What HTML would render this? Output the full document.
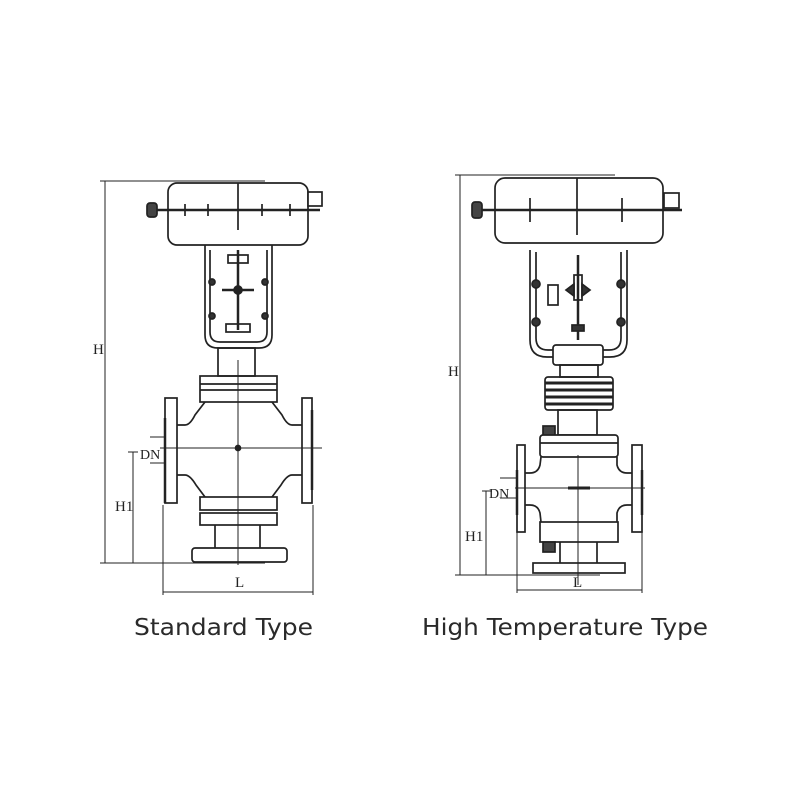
<!DOCTYPE html>
<html><head><meta charset="utf-8"><style>
html,body{margin:0;padding:0;background:#fff;width:800px;height:800px;overflow:hidden}
svg{display:block}
text{font-family:"Liberation Serif",serif;fill:#222}
</style></head><body>
<svg width="800" height="800" viewBox="0 0 800 800" xmlns="http://www.w3.org/2000/svg">
<g fill="none" stroke="#222" stroke-width="1.7">
<!-- ===== STANDARD ===== -->
<line x1="105" y1="181" x2="105" y2="563" stroke-width="1"/>
<line x1="100" y1="181" x2="265" y2="181" stroke-width="1"/>
<line x1="100" y1="563" x2="265" y2="563" stroke-width="1"/>
<rect x="168" y="183" width="140" height="62" rx="9" fill="#fff"/>
<line x1="150" y1="210" x2="320" y2="210" stroke-width="2.5"/>
<line x1="238" y1="183" x2="238" y2="230"/>
<line x1="185" y1="204" x2="185" y2="216"/><line x1="208" y1="204" x2="208" y2="216"/>
<line x1="262" y1="204" x2="262" y2="216"/><line x1="290" y1="204" x2="290" y2="216"/>
<rect x="147" y="203" width="10" height="14" rx="3" fill="#444"/>
<rect x="308" y="192" width="14" height="14" fill="#fff"/>
<path d="M205 245 V335 Q205 348 218 348 H259 Q272 348 272 335 V245"/>
<path d="M210 250 V332 Q210 342 220 342 H257 Q267 342 267 332 V250"/>
<line x1="238" y1="250" x2="238" y2="330" stroke-width="2.5"/>
<rect x="228" y="255" width="20" height="8"/>
<path d="M222 290 H254" stroke-width="2.5"/>
<circle cx="238" cy="290" r="4" fill="#222"/>
<rect x="226" y="324" width="24" height="8"/>
<circle cx="212" cy="282" r="3" fill="#333"/><circle cx="265" cy="282" r="3" fill="#333"/>
<circle cx="212" cy="316" r="3" fill="#333"/><circle cx="265" cy="316" r="3" fill="#333"/>
<rect x="218" y="348" width="37" height="28"/>
<rect x="200" y="376" width="77" height="26"/>
<line x1="200" y1="384" x2="277" y2="384"/><line x1="200" y1="390" x2="277" y2="390"/>
<rect x="165" y="398" width="12" height="105" fill="#fff"/>
<rect x="302" y="398" width="10" height="105" fill="#fff"/>
<path d="M177 425 H185 Q190 425 195 415 L205 402"/>
<path d="M302 425 H292 Q287 425 282 415 L272 402"/>
<path d="M177 475 H185 Q190 475 196 485 L205 497"/>
<path d="M302 475 H292 Q287 475 281 485 L272 497"/>
<line x1="312" y1="410" x2="312" y2="490" stroke-width="2.5"/>
<line x1="165" y1="418" x2="165" y2="503" stroke-width="2.5"/>
<rect x="200" y="497" width="77" height="13"/>
<rect x="200" y="513" width="77" height="12"/>
<line x1="215" y1="525" x2="215" y2="548"/><line x1="260" y1="525" x2="260" y2="548"/>
<rect x="192" y="548" width="95" height="14" rx="3"/>
<line x1="238" y1="360" x2="238" y2="565" stroke-width="1"/>
<line x1="160" y1="448" x2="322" y2="448" stroke-width="1"/>
<circle cx="238" cy="448" r="2.5" fill="#222"/>
<line x1="150" y1="437" x2="165" y2="437" stroke-width="1"/>
<line x1="150" y1="463" x2="165" y2="463" stroke-width="1"/>
<line x1="128" y1="452" x2="138" y2="452" stroke-width="1"/>
<line x1="133" y1="452" x2="133" y2="563" stroke-width="1"/>
<line x1="163" y1="505" x2="163" y2="595" stroke-width="1"/>
<line x1="313" y1="505" x2="313" y2="595" stroke-width="1"/>
<line x1="163" y1="592" x2="313" y2="592" stroke-width="1"/>

<!-- ===== HIGH TEMP ===== -->
<line x1="460" y1="175" x2="460" y2="575" stroke-width="1"/>
<line x1="455" y1="175" x2="615" y2="175" stroke-width="1"/>
<line x1="455" y1="575" x2="600" y2="575" stroke-width="1"/>
<rect x="495" y="178" width="168" height="65" rx="10" fill="#fff"/>
<line x1="475" y1="210" x2="682" y2="210" stroke-width="2.5"/>
<line x1="577" y1="178" x2="577" y2="235"/>
<line x1="530" y1="198" x2="530" y2="222"/><line x1="622" y1="198" x2="622" y2="222"/>
<rect x="472" y="202" width="10" height="16" rx="3" fill="#444"/>
<rect x="664" y="193" width="15" height="15" fill="#fff"/>
<path d="M530 250 V340 Q530 357 547 357 H610 Q627 357 627 340 V250"/>
<path d="M536 252 V338 Q536 350 548 350 H609 Q621 350 621 338 V252"/>
<line x1="578" y1="255" x2="578" y2="340" stroke-width="2.5"/>
<path d="M566 290 L574 284 V296 Z" fill="#333"/><path d="M590 290 L582 284 V296 Z" fill="#333"/>
<rect x="574" y="275" width="8" height="25"/>
<rect x="548" y="285" width="10" height="20" fill="#fff"/>
<rect x="572" y="325" width="12" height="6" fill="#333"/>
<circle cx="536" cy="284" r="4" fill="#333"/><circle cx="621" cy="284" r="4" fill="#333"/>
<circle cx="536" cy="322" r="4" fill="#333"/><circle cx="621" cy="322" r="4" fill="#333"/>
<rect x="553" y="345" width="50" height="20" rx="3" fill="#fff"/>
<rect x="560" y="365" width="38" height="12"/>
<rect x="545" y="377" width="68" height="33" rx="3"/>
<line x1="545" y1="383" x2="613" y2="383" stroke-width="3"/>
<line x1="545" y1="390" x2="613" y2="390" stroke-width="3"/>
<line x1="545" y1="397" x2="613" y2="397" stroke-width="3"/>
<line x1="545" y1="404" x2="613" y2="404" stroke-width="3"/>
<rect x="558" y="410" width="39" height="25"/>
<rect x="543" y="426" width="12" height="10" fill="#444"/>
<rect x="540" y="435" width="78" height="22" rx="3" fill="#fff"/>
<line x1="540" y1="443" x2="618" y2="443"/>
<rect x="517" y="445" width="8" height="87" fill="#fff"/>
<rect x="632" y="445" width="10" height="87" fill="#fff"/>
<path d="M525 473 H530 Q538 473 540 465 L541 457"/>
<path d="M632 473 H627 Q619 473 617 465 L617 457"/>
<path d="M525 505 H530 Q538 505 540 513 L541 522"/>
<path d="M632 505 H627 Q619 505 617 513 L617 522"/>
<line x1="642" y1="470" x2="642" y2="515" stroke-width="2.5"/>
<line x1="517" y1="470" x2="517" y2="515" stroke-width="2.5"/>
<rect x="540" y="522" width="78" height="20"/>
<rect x="543" y="542" width="12" height="10" fill="#444"/>
<line x1="560" y1="542" x2="560" y2="563"/><line x1="597" y1="542" x2="597" y2="563"/>
<rect x="533" y="563" width="92" height="10"/>
<line x1="578" y1="455" x2="578" y2="585" stroke-width="1"/>
<line x1="515" y1="488" x2="645" y2="488" stroke-width="1"/>
<line x1="568" y1="488" x2="590" y2="488" stroke-width="3"/>
<line x1="500" y1="478" x2="517" y2="478" stroke-width="1"/>
<line x1="500" y1="498" x2="517" y2="498" stroke-width="1"/>
<line x1="482" y1="491" x2="492" y2="491" stroke-width="1"/>
<line x1="486" y1="491" x2="486" y2="575" stroke-width="1"/>
<line x1="517" y1="532" x2="517" y2="593" stroke-width="1"/>
<line x1="642" y1="532" x2="642" y2="593" stroke-width="1"/>
<line x1="517" y1="590" x2="642" y2="590" stroke-width="1"/>
</g>
<g font-size="15" stroke="none">
<text x="93" y="354">H</text>
<text x="140" y="459" font-size="14">DN</text>
<text x="115" y="511">H1</text>
<text x="235" y="587">L</text>
<text x="448" y="376">H</text>
<text x="489" y="498" font-size="14">DN</text>
<text x="465" y="541">H1</text>
<text x="573" y="587">L</text>
</g>
<text x="134" y="635" font-size="23" textLength="179" lengthAdjust="spacingAndGlyphs" style="font-family:'DejaVu Sans',sans-serif;fill:#2a2a2a">Standard Type</text>
<text x="422" y="635" font-size="23" textLength="286" lengthAdjust="spacingAndGlyphs" style="font-family:'DejaVu Sans',sans-serif;fill:#2a2a2a">High Temperature Type</text>
</svg>
</body></html>
